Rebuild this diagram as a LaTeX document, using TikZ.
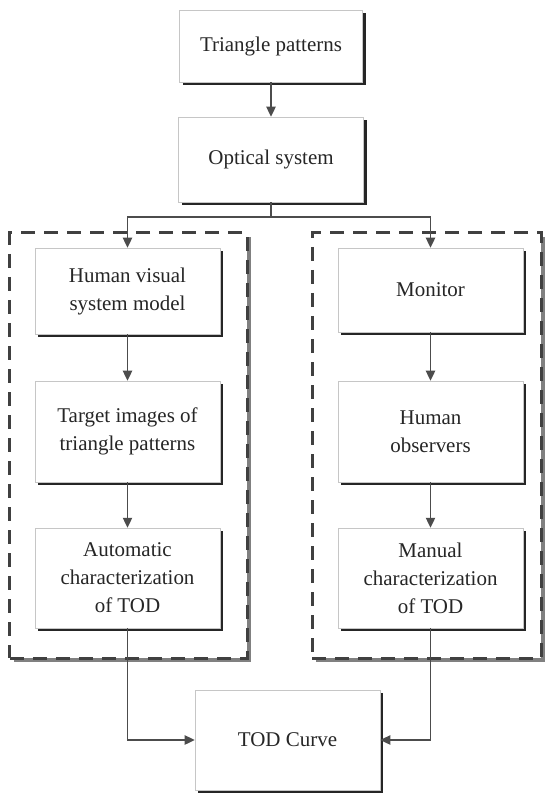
\documentclass[tikz,border=0pt]{standalone}
\usepackage{fontspec}
\setmainfont{Liberation Serif}
\usetikzlibrary{arrows.meta,shadows}

\begin{document}
\begin{tikzpicture}[
  x=0.03cm, y=-0.03cm,
  box/.style={draw=gray!45, line width=0.5pt, fill=white, text=black!85,
    minimum width=5.55cm, inner sep=0pt, align=center,
    font=\fontsize{17.9}{23.9}\selectfont,
    drop shadow={shadow xshift=0.1cm, shadow yshift=-0.1cm, fill=black!85, opacity=1}},
  groupbox/.style={draw=black!75, line width=0.09cm, fill=white,
    dash pattern=on 0.42cm off 0.27cm, inner sep=0pt,
    drop shadow={shadow xshift=0.13cm, shadow yshift=-0.13cm, fill=black!50, opacity=1}},
  arr/.style={-{Triangle[length=8.5pt, width=8pt]}, draw=black!70, line width=1pt},
  line/.style={draw=black!70, line width=1pt}
]
\useasboundingbox (0,0) rectangle (547,794);

% dashed groups
\node[groupbox, minimum width=7.11cm, minimum height=12.75cm] (leftgrp) at (128.5,445.5) {};
\node[groupbox, minimum width=6.87cm, minimum height=12.75cm] (rightgrp) at (426.5,445.5) {};

\node[box, minimum width=5.49cm, minimum height=2.16cm] (tri) at (271,46) {Triangle patterns};
\node[box, minimum height=2.55cm] (optic) at (271,159.5) {Optical system};

% left branch
\node[box, minimum height=2.58cm] (hvs) at (127.5,291) {Human visual\\system model};
\node[box, minimum height=3.03cm] (target) at (127.5,431.5) {Target images of\\triangle patterns};
\node[box, minimum height=3.0cm] (autochar) at (127.5,578) {Automatic\\characterization\\of TOD};

% right branch
\node[box, minimum height=2.52cm] (monitor) at (430.5,290) {Monitor};
\node[box, minimum height=3.03cm] (observers) at (430.5,431.5) {Human\\observers};
\node[box, minimum height=3.0cm] (manual) at (430.5,578) {Manual\\characterization\\of TOD};

\node[box, minimum height=3.0cm] (todcurve) at (287.5,740) {TOD Curve};

\coordinate (split) at (271,217);

\draw[arr] (tri) -- (optic);
\draw[line] (optic) -- (split);
\draw[arr] (split) -| (hvs.north);
\draw[arr] (split) -| (monitor.north);
\draw[arr] (hvs) -- (target);
\draw[arr] (target) -- (autochar);
\draw[arr] (monitor) -- (observers);
\draw[arr] (observers) -- (manual);
\draw[arr] (autochar.south) |- (todcurve.west);
\draw[arr] (manual.south) |- (todcurve.east);
\end{tikzpicture}
\end{document}
